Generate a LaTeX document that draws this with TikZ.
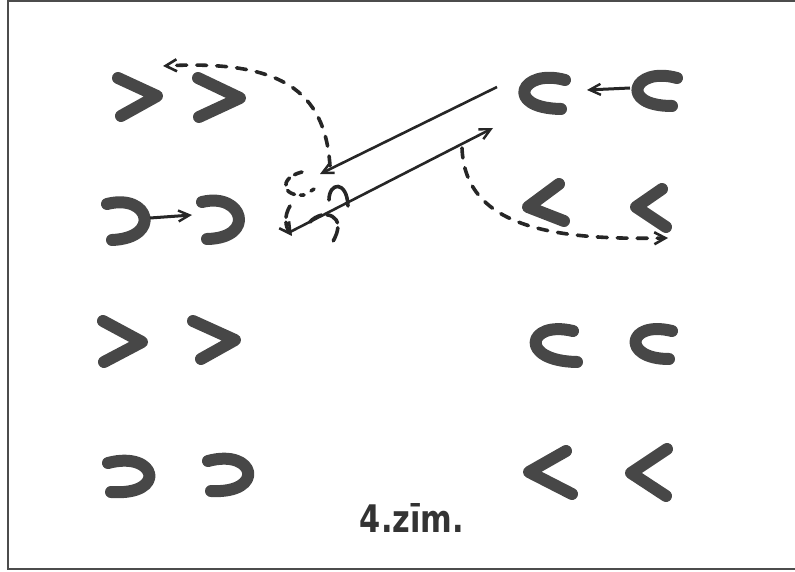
\documentclass[tikz,border=0pt]{standalone}
\usepackage{fontspec}
\setmainfont{DejaVu Sans}
\usetikzlibrary{arrows.meta}
\begin{document}
\begin{tikzpicture}[x=1pt,y=-1pt,
  glyph/.style={line width=12pt, line cap=round, line join=round, draw=black!72},
  dashline/.style={line width=3.6pt, line cap=round, dash pattern=on 10pt off 10pt, draw=black!85},
  solid arrow/.style={line width=2.6pt, draw=black!85, -{Straight Barb[length=11pt,width=11pt,line width=2.4pt]}},
  tip/.style={-{Straight Barb[length=11pt,width=12pt,line width=2.6pt]}},
  frame/.style={line width=1.4pt, draw=black!70}]
\useasboundingbox (0,0) rectangle (795,572);
% frame
\draw[frame] (795,1) -- (8,1) -- (8,569) -- (795,569);
% row 1 left: > >
\draw[glyph] (118,78) -- (157,96) -- (121,116);
\draw[glyph] (198,78) -- (240,98) -- (199,117);
% row 2 left: two U shapes with arrow
\draw[glyph] (107,204) .. controls (150,193) and (162,238) .. (112,240);
\draw[glyph] (202,202) .. controls (243,192) and (257,238) .. (207,239);
\coordinate (l2a) at (150,218);
\coordinate (l2b) at (192,215);
\draw[solid arrow, line width=3pt] (l2a) -- (l2b);
% row 3 left
\draw[glyph] (103,321) -- (142,342) -- (104,362);
\draw[glyph] (193,321) -- (235,340) -- (201,359);
% row 4 left
\draw[glyph] (108,463) .. controls (157,450) and (168,496) .. (111,492);
\draw[glyph] (208,461) .. controls (256,448) and (266,494) .. (211,491);
% row 1 right: C <- C
\draw[glyph] (565,80) .. controls (521,68) and (503,108) .. (561,109);
\draw[glyph] (677,78) .. controls (633,66) and (618,106) .. (672,106);
\coordinate (r1a) at (630,88);
\coordinate (r1b) at (587,90);
\draw[solid arrow, line width=3pt] (r1a) -- (r1b);
% row 2 right: < <
\draw[glyph] (559,184) -- (528,207) -- (564,221);
\draw[glyph] (662,189) -- (636,207) -- (666,227);
% row 3 right
\draw[glyph] (573,331) .. controls (527,320) and (518,361) .. (577,362);
\draw[glyph] (672,331) .. controls (627,320) and (621,359) .. (669,359);
% row 4 right
\draw[glyph] (566,451) -- (529,472) -- (572,494);
\draw[glyph] (667,449) -- (631,473) -- (666,496);
% long arrows
\coordinate (a1s) at (497,87);
\coordinate (a1e) at (320,174);
\coordinate (a2s) at (290,232);
\coordinate (a2e) at (493,128);
\draw[solid arrow] (a1s) -- (a1e);
\draw[solid arrow] (a2s) -- (a2e);
% dashed curves
\coordinate (d1s) at (330,166);
\coordinate (d1e) at (163,66);
\draw[dashline, tip] (d1s) .. controls (325,90) and (280,60) .. (d1e);
\coordinate (d2s) at (462,148);
\coordinate (d2e) at (668,238);
\draw[dashline, tip] (d2s) .. controls (465,230) and (560,240) .. (d2e);
% centre cluster
\draw[dashline, dash pattern=on 8pt off 6pt] (302,172) .. controls (278,178) and (282,197) .. (304,195);
\draw[line width=3.6pt, draw=black!85, line cap=round] (311,191) -- (314,189);
\draw[dashline, dash pattern=on 12pt off 5pt, tip] (290,206) .. controls (284,216) and (285,226) .. (292,236);
\draw[line width=3.6pt, draw=black!85, line cap=round] (329,200) .. controls (329,182) and (347,180) .. (348,206);
\draw[line width=3.6pt, draw=black!85, line cap=round, dash pattern=on 14pt off 5pt] (310,222) .. controls (322,208) and (350,214) .. (332,243);
% caption
\node[font=\bfseries\fontsize{38}{42}\selectfont, text=black!80, xscale=0.8, transform shape] (cap) at (412,518) {4.zīm.};
\end{tikzpicture}
\end{document}
